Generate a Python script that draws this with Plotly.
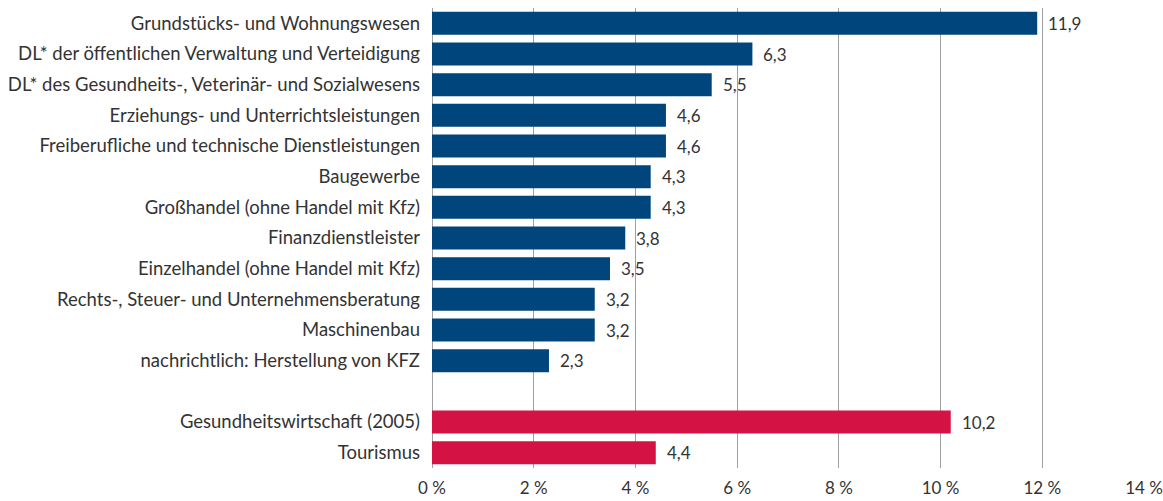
import plotly.graph_objects as go

categories = [
    "Grundstücks- und Wohnungswesen",
    "DL* der öffentlichen Verwaltung und Verteidigung",
    "DL* des Gesundheits-, Veterinär- und Sozialwesens",
    "Erziehungs- und Unterrichtsleistungen",
    "Freiberufliche und technische Dienstleistungen",
    "Baugewerbe",
    "Großhandel (ohne Handel mit Kfz)",
    "Finanzdienstleister",
    "Einzelhandel (ohne Handel mit Kfz)",
    "Rechts-, Steuer- und Unternehmensberatung",
    "Maschinenbau",
    "nachrichtlich: Herstellung von KFZ",
]
values = [11.9, 6.3, 5.5, 4.6, 4.6, 4.3, 4.3, 3.8, 3.5, 3.2, 3.2, 2.3]

categories2 = ["Gesundheitswirtschaft (2005)", "Tourismus"]
values2 = [10.2, 4.4]

tick_vals = [0, 2, 4, 6, 8, 10, 12, 14]
tick_text = ["0 %", "2 %", "4 %", "6 %", "8 %", "10 %", "12 %", "14 %"]

gap_label = " "
order = categories + [gap_label] + categories2

blue = "#00467c"
red = "#d51244"
font_family = "Lato, Open Sans, sans-serif"
text_color = "#333333"
fsize = 18.5

fig = go.Figure()
fig.add_trace(go.Bar(
    x=values, y=categories, orientation="h",
    marker=dict(color=blue, line=dict(width=0)),
    hoverinfo="x+y", showlegend=False,
))
fig.add_trace(go.Bar(
    x=values2, y=categories2, orientation="h",
    marker=dict(color=red, line=dict(width=0)),
    hoverinfo="x+y", showlegend=False,
))

for c, v in list(zip(categories, values)) + list(zip(categories2, values2)):
    fig.add_annotation(
        x=v, y=c, text=f"{v:.1f}".replace(".", ","),
        xanchor="left", yanchor="middle", xshift=9,
        showarrow=False, font=dict(family=font_family, size=17, color=text_color),
    )

fig.update_layout(
    width=1163, height=501,
    margin=dict(l=432, r=19, t=8, b=33, autoexpand=False),
    paper_bgcolor="white", plot_bgcolor="white",
    bargap=0.25, barmode="overlay",
    font=dict(family=font_family, size=fsize, color=text_color),
    xaxis=dict(
        range=[0, 14], tickvals=tick_vals, ticktext=tick_text,
        showgrid=True, gridcolor="#a0a0a0", gridwidth=1,
        zeroline=True, zerolinecolor="#a0a0a0", zerolinewidth=1,
        showline=False, ticks="", fixedrange=True, automargin=False,
        ticklabelstandoff=8,
        tickfont=dict(size=17, color=text_color),
    ),
    yaxis=dict(
        categoryorder="array", categoryarray=order[::-1],
        type="category", range=[-0.5, len(order) - 0.5],
        showgrid=False, zeroline=False, showline=False, ticks="",
        ticklabelstandoff=11, fixedrange=True, automargin=False,
        tickfont=dict(size=fsize, color=text_color),
    ),
)

fig.write_html("out.html", config={"displayModeBar": False},
               post_script="document.body.style.margin='0';")
